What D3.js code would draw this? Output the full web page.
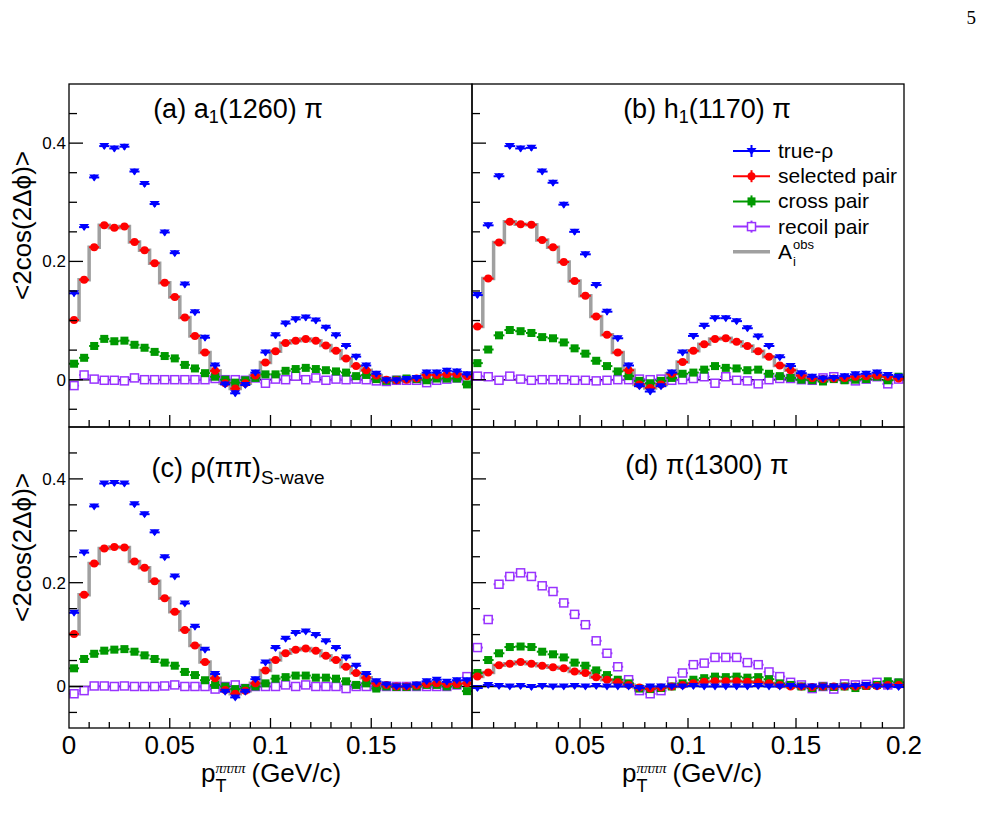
<!DOCTYPE html>
<html>
  <head>
    <meta charset="utf-8">
    <title>cos(2 delta phi) vs pT</title>
    <script src="https://d3js.org/d3.v7.min.js"></script>
    <style>
      body { margin: 0; background: #fff; }
      svg { display: block; font-family: "Liberation Sans", Arial, sans-serif; }
    </style>
  </head>
  <body>
    <svg id="chart" width="982" height="823"></svg>
    <script>
      // bin centres, 40 bins of 0.005 GeV/c
      const binWidth = 0.005;
      const nBins = 40;
      const xTicksLeft = ["0", "0.05", "0.1", "0.15"];
      const xTicksRight = ["0.05", "0.1", "0.15", "0.2"];
      const yTickLabels = ["0", "0.2", "0.4"];

      // (a) a1(1260) pi
      const trueA = [0.146, 0.258, 0.342, 0.395, 0.391, 0.394, 0.352, 0.331, 0.297, 0.249, 0.214, 0.161, 0.114, 0.071, 0.024, -0.008, -0.023, -0.009, 0.012, 0.046, 0.075, 0.095, 0.102, 0.105, 0.100, 0.088, 0.075, 0.057, 0.039, 0.024, 0.010, -0.001, -0.001, 0.001, 0.003, 0.012, 0.012, 0.015, 0.014, 0.009];
      const selA = [0.101, 0.169, 0.224, 0.261, 0.257, 0.259, 0.233, 0.219, 0.197, 0.164, 0.140, 0.105, 0.074, 0.046, 0.015, -0.006, -0.015, -0.006, 0.007, 0.029, 0.048, 0.062, 0.066, 0.069, 0.066, 0.058, 0.049, 0.036, 0.023, 0.016, 0.007, 0.000, -0.001, 0.000, 0.002, 0.008, 0.008, 0.009, 0.009, 0.006];
      const crossA = [0.027, 0.037, 0.057, 0.069, 0.065, 0.066, 0.059, 0.054, 0.047, 0.040, 0.036, 0.025, 0.019, 0.011, 0.005, 0.000, -0.005, -0.001, 0.003, 0.009, 0.009, 0.015, 0.018, 0.020, 0.018, 0.016, 0.014, 0.012, 0.006, 0.008, 0.001, -0.002, 0.000, 0.002, 0.001, -0.001, 0.002, 0.002, 0.002, -0.008];
      const recoilA = [-0.010, 0.008, 0.001, -0.001, -0.001, -0.002, 0.003, 0.000, 0.000, 0.000, 0.000, 0.000, 0.000, 0.000, 0.002, 0.000, 0.000, -0.001, 0.003, -0.006, 0.001, 0.000, 0.006, 0.000, 0.003, -0.001, 0.001, 0.000, 0.001, 0.000, -0.002, -0.003, -0.001, -0.001, -0.001, -0.005, -0.001, 0.001, 0.003, 0.000];

      // (b) h1(1170) pi
      const trueB = [0.143, 0.261, 0.344, 0.395, 0.391, 0.392, 0.352, 0.333, 0.296, 0.250, 0.212, 0.160, 0.115, 0.070, 0.024, -0.011, -0.020, -0.011, 0.012, 0.046, 0.074, 0.091, 0.104, 0.104, 0.099, 0.087, 0.073, 0.057, 0.038, 0.023, 0.011, 0.005, 0.002, 0.003, 0.006, 0.009, 0.010, 0.012, 0.008, 0.005];
      const selB = [0.090, 0.171, 0.232, 0.267, 0.263, 0.262, 0.236, 0.224, 0.199, 0.167, 0.142, 0.107, 0.076, 0.046, 0.016, -0.008, -0.014, -0.008, 0.010, 0.030, 0.049, 0.060, 0.069, 0.070, 0.064, 0.057, 0.048, 0.039, 0.024, 0.016, 0.007, 0.003, 0.001, 0.002, 0.003, 0.005, 0.006, 0.007, 0.005, 0.002];
      const crossB = [0.028, 0.051, 0.075, 0.084, 0.082, 0.079, 0.072, 0.070, 0.063, 0.053, 0.044, 0.032, 0.023, 0.014, 0.006, -0.002, -0.006, -0.002, 0.003, 0.010, 0.012, 0.017, 0.023, 0.020, 0.019, 0.016, 0.017, 0.010, 0.006, 0.003, 0.000, -0.001, -0.003, 0.001, -0.001, 0.000, 0.001, 0.005, -0.001, 0.005];
      const recoilB = [0.006, 0.005, -0.001, 0.006, 0.001, -0.001, 0.000, 0.000, 0.000, -0.001, -0.001, -0.002, -0.001, 0.000, 0.000, 0.001, 0.000, 0.001, -0.001, 0.000, 0.002, 0.005, -0.006, 0.005, -0.001, -0.002, -0.007, 0.000, 0.002, 0.002, 0.000, -0.001, 0.003, 0.005, 0.001, -0.002, 0.001, 0.005, -0.007, 0.001];

      // (c) rho(pipi) S-wave
      const trueC = [0.142, 0.258, 0.347, 0.391, 0.392, 0.391, 0.351, 0.332, 0.297, 0.249, 0.212, 0.160, 0.115, 0.071, 0.024, -0.010, -0.021, -0.010, 0.014, 0.046, 0.074, 0.092, 0.103, 0.106, 0.099, 0.087, 0.074, 0.056, 0.040, 0.024, 0.010, 0.004, 0.000, 0.000, 0.004, 0.010, 0.013, 0.009, 0.012, 0.012];
      const selC = [0.101, 0.177, 0.237, 0.266, 0.269, 0.268, 0.241, 0.229, 0.203, 0.170, 0.144, 0.109, 0.079, 0.047, 0.016, -0.007, -0.014, -0.008, 0.006, 0.031, 0.051, 0.064, 0.071, 0.073, 0.069, 0.059, 0.051, 0.038, 0.026, 0.017, 0.006, 0.003, 0.000, 0.000, 0.002, 0.005, 0.006, 0.005, 0.005, 0.006];
      const crossC = [0.035, 0.053, 0.063, 0.069, 0.071, 0.072, 0.067, 0.060, 0.053, 0.046, 0.040, 0.028, 0.022, 0.012, 0.003, 0.000, -0.005, -0.003, 0.000, 0.006, 0.015, 0.018, 0.021, 0.021, 0.017, 0.017, 0.015, 0.010, 0.003, 0.006, -0.004, 0.000, -0.001, -0.001, 0.000, 0.003, 0.003, 0.000, 0.003, -0.009];
      const recoilC = [-0.014, -0.008, 0.001, 0.001, 0.000, 0.001, 0.000, 0.000, 0.000, 0.001, 0.003, 0.000, 0.000, 0.000, -0.005, 0.000, 0.003, -0.004, 0.000, 0.000, 0.000, 0.003, 0.000, 0.003, 0.000, 0.000, 0.000, -0.004, 0.000, 0.000, 0.000, 0.000, 0.000, 0.000, 0.000, 0.000, 0.000, 0.000, 0.003, 0.019];

      // (d) pi(1300) pi
      const trueD = [-0.003, 0.003, 0.001, 0.000, 0.001, -0.001, 0.001, 0.000, 0.000, 0.001, 0.000, 0.001, 0.000, 0.000, 0.000, -0.003, 0.000, 0.000, 0.000, 0.000, 0.001, 0.000, 0.000, 0.000, 0.000, 0.000, 0.001, 0.000, 0.000, 0.001, 0.000, 0.000, 0.000, 0.000, 0.000, 0.001, 0.003, 0.000, 0.000, -0.001];
      const selD = [0.019, 0.027, 0.041, 0.044, 0.047, 0.044, 0.040, 0.037, 0.035, 0.029, 0.026, 0.018, 0.013, 0.008, 0.003, -0.002, -0.004, -0.002, 0.000, 0.003, 0.006, 0.009, 0.010, 0.010, 0.010, 0.009, 0.008, 0.006, 0.003, 0.000, 0.000, -0.001, 0.000, 0.000, 0.000, 0.000, 0.001, 0.001, 0.003, 0.003];
      const crossD = [0.026, 0.051, 0.064, 0.076, 0.077, 0.076, 0.067, 0.062, 0.056, 0.046, 0.040, 0.031, 0.022, 0.013, 0.006, -0.004, -0.005, -0.003, 0.000, 0.006, 0.013, 0.016, 0.019, 0.018, 0.019, 0.017, 0.018, 0.014, 0.006, 0.003, 0.000, -0.003, 0.000, -0.001, 0.000, -0.003, 0.001, 0.003, 0.010, 0.008];
      const recoilD = [0.075, 0.129, 0.197, 0.212, 0.219, 0.212, 0.194, 0.183, 0.161, 0.139, 0.119, 0.088, 0.064, 0.038, 0.013, -0.008, -0.014, -0.008, 0.010, 0.026, 0.042, 0.045, 0.056, 0.056, 0.056, 0.046, 0.042, 0.028, 0.019, 0.008, 0.003, -0.004, 0.000, -0.005, 0.005, 0.003, 0.004, 0.008, 0.003, 0.006];

      const statErr = 0.005;

      const colors = { true: "#0000ff", sel: "#ff0000", cross: "#009900", recoil: "#9933ff", obs: "#a0a0a0" };

      // panel layout (plot frames)
      const cols = [{ x0: 69, x1: 472 }, { x0: 472, x1: 904 }];
      const rows = [{ y0: 84, y1: 427 }, { y0: 427, y1: 728 }];

      const panels = [
        { col: 0, row: 0, id: "a", data: { true: trueA, sel: selA, cross: crossA, recoil: recoilA } },
        { col: 1, row: 0, id: "b", data: { true: trueB, sel: selB, cross: crossB, recoil: recoilB } },
        { col: 0, row: 1, id: "c", data: { true: trueC, sel: selC, cross: crossC, recoil: recoilC } },
        { col: 1, row: 1, id: "d", data: { true: trueD, sel: selD, cross: crossD, recoil: recoilD } }
      ];

      const svg = d3.select("#chart");
      const centres = d3.range(nBins).map(function(i) { return (i + 0.5) * binWidth; });

      panels.forEach(drawPanel);

      function drawPanel(p) {
        const c = cols[p.col], r = rows[p.row];
        const x = d3.scaleLinear().domain([0, 0.2]).range([c.x0, c.x1]);
        const y = d3.scaleLinear().domain([-0.08, 0.5]).range([r.y1, r.y0]);
        const g = svg.append("g").attr("class", "panel-" + p.id);

        // zero line
        g.append("line")
          .attr("x1", x(0)).attr("x2", x(0.2))
          .attr("y1", y(0)).attr("y2", y(0))
          .attr("stroke", "#000").attr("stroke-width", 1.6);

        // A_i^obs step histogram
        const stepPts = p.data.sel.map(function(v, i) { return [i * binWidth, v]; });
        stepPts.push([nBins * binWidth, p.data.sel[nBins - 1]]);
        g.append("path")
          .attr("d", d3.line().x(function(d) { return x(d[0]); }).y(function(d) { return y(d[1]); })
            .curve(d3.curveStepAfter)(stepPts))
          .attr("fill", "none")
          .attr("stroke", colors.obs)
          .attr("stroke-width", 3.5);

        drawSeries(g, x, y, p.data.recoil, "recoil");
        drawSeries(g, x, y, p.data.cross, "cross");
        drawSeries(g, x, y, p.data.sel, "sel");
        drawSeries(g, x, y, p.data.true, "true");

        // frame
        g.append("rect")
          .attr("x", c.x0).attr("y", r.y0)
          .attr("width", c.x1 - c.x0).attr("height", r.y1 - r.y0)
          .attr("fill", "none").attr("stroke", "#000").attr("stroke-width", 1.3);

        // x axis ticks (inward)
        const xt = r === rows[0] ? [12, 7] : [10, 6];
        d3.range(0, 41).forEach(function(k) {
          const v = k * 0.005;
          if (v <= 0 || v >= 0.2) return;
          if (k % 2) return;
          const major = k % 10 === 0;
          g.append("line")
            .attr("x1", x(v)).attr("x2", x(v))
            .attr("y1", r.y1).attr("y2", r.y1 - (major ? xt[0] : xt[1]))
            .attr("stroke", "#000").attr("stroke-width", 1.3);
        });

        // y axis ticks (inward)
        d3.range(-1, 10).forEach(function(k) {
          const v = k * 0.05;
          const major = k % 4 === 0;
          g.append("line")
            .attr("x1", c.x0).attr("x2", c.x0 + (major ? 14 : 8))
            .attr("y1", y(v)).attr("y2", y(v))
            .attr("stroke", "#000").attr("stroke-width", 1.3);
        });

        // tick labels
        if (p.col === 0) {
          g.selectAll(".ylab")
            .data(yTickLabels)
            .enter().append("text")
              .attr("x", c.x0 - 3)
              .attr("y", function(d) { return y(+d) + 6; })
              .attr("text-anchor", "end")
              .attr("font-size", 17)
              .text(function(d) { return d; });
          yTitle(g, (r.y0 + r.y1) / 2 - 30);
        }
        if (p.row === 1) {
          const labs = p.col === 0 ? xTicksLeft : xTicksRight;
          g.selectAll(".xlab")
            .data(labs)
            .enter().append("text")
              .attr("x", function(d) { return x(+d); })
              .attr("y", 754)
              .attr("text-anchor", "middle")
              .attr("font-size", 26)
              .text(function(d) { return d; });
          xTitle(g, p.col === 0 ? 271 : 692, 782);
        }

        panelTitle(g, p.id);
        if (p.id === "b") legend(g);
      }

      function drawSeries(g, x, y, vals, key) {
        const col = colors[key];
        const s = g.append("g");
        vals.forEach(function(v, i) {
          const cx = x(centres[i]), cy = y(v);
          // error bars
          s.append("line")
            .attr("x1", x(centres[i] - binWidth / 2)).attr("x2", x(centres[i] + binWidth / 2))
            .attr("y1", cy).attr("y2", cy)
            .attr("stroke", col).attr("stroke-width", 2);
          s.append("line")
            .attr("x1", cx).attr("x2", cx)
            .attr("y1", y(v - statErr)).attr("y2", y(v + statErr))
            .attr("stroke", col).attr("stroke-width", 2);
          marker(s, key, cx, cy, col);
        });
      }

      function marker(s, key, cx, cy, col) {
        if (key === "true") {
          s.append("path")
            .attr("d", "M" + (cx - 5) + "," + (cy - 3) + "L" + (cx + 5) + "," + (cy - 3) + "L" + cx + "," + (cy + 4) + "Z")
            .attr("fill", col);
        } else if (key === "sel") {
          s.append("circle").attr("cx", cx).attr("cy", cy).attr("r", 4).attr("fill", col);
        } else if (key === "cross") {
          s.append("rect").attr("x", cx - 4).attr("y", cy - 4).attr("width", 8).attr("height", 8).attr("fill", col);
        } else {
          s.append("rect").attr("x", cx - 4).attr("y", cy - 4).attr("width", 8).attr("height", 8)
            .attr("fill", "#fff").attr("stroke", col).attr("stroke-width", 1.5);
        }
      }

      function panelTitle(g, id) {
        const t = g.append("text").attr("font-size", 27).attr("text-anchor", "middle");
        if (id === "a") {
          t.attr("x", 238).attr("y", 118);
          t.append("tspan").text("(a) a");
          t.append("tspan").attr("font-size", 18).attr("dy", 5).text("1");
          t.append("tspan").attr("dy", -5).text("(1260) \u03c0");
        } else if (id === "b") {
          t.attr("x", 707).attr("y", 118);
          t.append("tspan").text("(b) h");
          t.append("tspan").attr("font-size", 18).attr("dy", 5).text("1");
          t.append("tspan").attr("dy", -5).text("(1170) \u03c0");
        } else if (id === "c") {
          t.attr("x", 238).attr("y", 477);
          t.append("tspan").text("(c) \u03c1(\u03c0\u03c0)");
          t.append("tspan").attr("font-size", 19).attr("dy", 7).text("S-wave");
        } else {
          t.attr("x", 707).attr("y", 474).text("(d) \u03c0(1300) \u03c0");
        }
      }

      function yTitle(g, cy) {
        g.append("text")
          .attr("transform", "translate(31," + cy + ") rotate(-90)")
          .attr("text-anchor", "middle")
          .attr("font-size", 26)
          .text("<2cos(2\u0394\u03d5)>");
      }

      function xTitle(g, cx, by) {
        const t = g.append("g");
        const p = t.append("text").attr("font-size", 26).attr("y", by).text("p");
        const wp = p.node().getComputedTextLength();
        const sup = t.append("text").attr("font-size", 15).attr("font-style", "italic")
          .attr("font-family", "'Liberation Serif', serif")
          .attr("x", wp).attr("y", by - 9).text("\u03c0\u03c0\u03c0\u03c0");
        const ws = sup.node().getComputedTextLength();
        t.append("text").attr("font-size", 18).attr("x", wp).attr("y", by + 10).text("T");
        const rest = t.append("text").attr("font-size", 26).attr("x", wp + ws + 6).attr("y", by).text("(GeV/c)");
        const total = wp + ws + 6 + rest.node().getComputedTextLength();
        t.attr("transform", "translate(" + (cx - total / 2) + ",0)");
      }

      function legend(g) {
        const entries = [
          { key: "true", label: "true-\u03c1" },
          { key: "sel", label: "selected pair" },
          { key: "cross", label: "cross pair" },
          { key: "recoil", label: "recoil pair" },
          { key: "obs", label: "A" }
        ];
        const lx0 = 733, lx1 = 770, tx = 778;
        entries.forEach(function(e, i) {
          const ly = 151 + i * 25.2;
          const col = colors[e.key];
          g.append("line")
            .attr("x1", lx0).attr("x2", lx1).attr("y1", ly).attr("y2", ly)
            .attr("stroke", col).attr("stroke-width", e.key === "obs" ? 3.5 : 2);
          if (e.key !== "obs") {
            g.append("line")
              .attr("x1", (lx0 + lx1) / 2).attr("x2", (lx0 + lx1) / 2)
              .attr("y1", ly - 6).attr("y2", ly + 6)
              .attr("stroke", col).attr("stroke-width", 2);
            marker(g, e.key, (lx0 + lx1) / 2, ly, col);
          }
          const t = g.append("text").attr("x", tx).attr("y", ly + 7).attr("font-size", 21).text(e.label);
          if (e.key === "obs") {
            const w = t.node().getComputedTextLength();
            g.append("text").attr("x", tx + w + 1).attr("y", ly - 3).attr("font-size", 13).text("obs");
            g.append("text").attr("x", tx + w + 1).attr("y", ly + 14).attr("font-size", 13).text("i");
          }
        });
      }

      // page number
      svg.append("text")
        .attr("x", 976).attr("y", 24)
        .attr("text-anchor", "end")
        .attr("font-family", "'Liberation Serif', 'Times New Roman', serif")
        .attr("font-size", 19)
        .text("5");
    </script>
  </body>
</html>
